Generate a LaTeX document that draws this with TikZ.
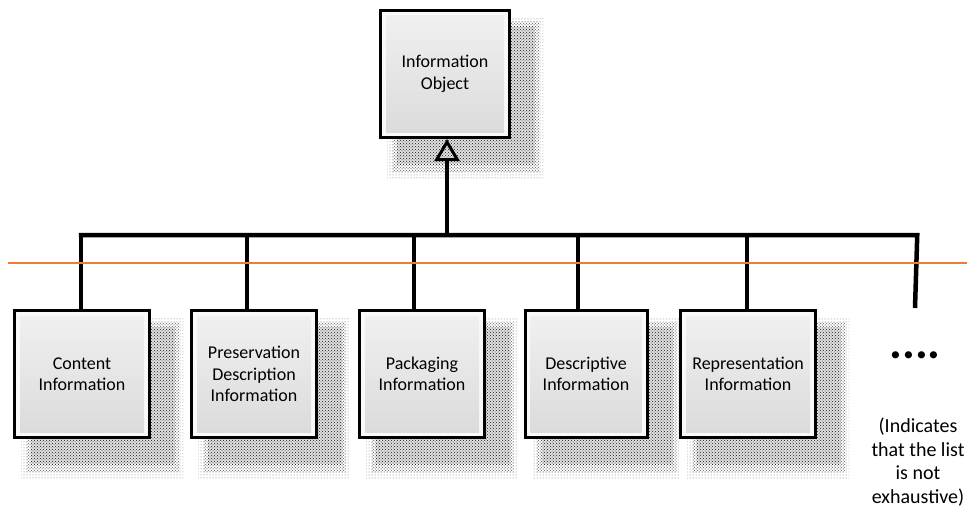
\documentclass[tikz,border=0pt]{standalone}
\usepackage{fontspec}
\setmainfont{Carlito}
\usetikzlibrary{arrows.meta,patterns,backgrounds,calc}
\definecolor{cutorange}{HTML}{ED7D31}
\begin{document}
\begin{tikzpicture}[x=1pt,y=-1pt] % 1pt = 1px, y runs down
\tikzstyle{infobox} = [draw=black, line width=3pt, align=center, inner sep=0pt, minimum height=127pt, font=\fontsize{18}{21.5}\selectfont] % box style
\tikzstyle{link} = [line width=4.5pt] % connector style
\tikzstyle{note} = [align=center, font=\fontsize{20}{23.5}\selectfont] % side note
\useasboundingbox (0,0) rectangle (967,511);

\node[infobox, minimum width=129pt] (obj) at (445,74) {Information\\Object}; % the parent
\node[infobox, minimum width=135pt] (content) at (82,374) {Content\\Information};
\node[infobox, minimum width=125pt] (preserv) at (254,374) {Preservation\\Description\\Information};
\node[infobox, minimum width=125pt] (packag) at (422,374) {Packaging\\Information};
\node[infobox, minimum width=122pt] (descr) at (586,374) {Descriptive\\Information};
\node[infobox, minimum width=135pt] (repres) at (748,374) {Representation\\Information};
\node[font=\fontsize{48}{48}\selectfont\bfseries, anchor=base] (more) at (915,358) {....};
\node[note] (morenote) at (918,462) {(Indicates\\that the list\\is not\\exhaustive)};

% shadows and bevelled faces
\begin{scope}[on background layer]
\foreach \b in {obj,content,preserv,packag,descr,repres} {
  \fill[pattern=dots, pattern color=black!55] ($(\b.north west)+(8,8)$) rectangle ($(\b.south east)+(32,40)$);
  \fill[pattern=crosshatch dots, pattern color=black!65] ($(\b.north west)+(13,13)$) rectangle ($(\b.south east)+(28,33)$);
  \fill[black!12] ($(\b.north west)+(18,18)$) rectangle ($(\b.south east)+(24,25)$);
  \fill[pattern=crosshatch dots, pattern color=black!90] ($(\b.north west)+(18,18)$) rectangle ($(\b.south east)+(24,25)$);
  \fill[gray!5] (\b.north west) rectangle (\b.south east);
  \shade[top color=gray!12, bottom color=gray!28] ($(\b.north west)+(7,7)$) rectangle ($(\b.south east)+(-7,-7)$);
}
\end{scope}

% the bar
\coordinate (b1) at (81,235);
\coordinate (b2) at (247,235);
\coordinate (b3) at (414,235);
\coordinate (b4) at (578,235);
\coordinate (b5) at (747,235);
\coordinate (b6) at (915,235);
\coordinate (bt) at (447,235);
\coordinate (moreend) at (915,308);

\draw[link] ($(b1)+(0,-2.25)$) |- ($(b6)+(2.25,0)$) -- (moreend);
\draw[link] (b2) -- (b2 |- preserv.north);
\draw[link] (b3) -- (b3 |- packag.north);
\draw[link] (b4) -- (b4 |- descr.north);
\draw[link] (b5) -- (b5 |- repres.north);
\draw[link] (b1) -- (b1 |- content.north);
\draw[link, -{Triangle[open, length=22pt, width=25pt, line width=3pt]}] (bt) -- (bt |- obj.south);

% orange cut line
\draw[cutorange, line width=2pt] (8,263) -- (967,263);
\end{tikzpicture}
\end{document}
